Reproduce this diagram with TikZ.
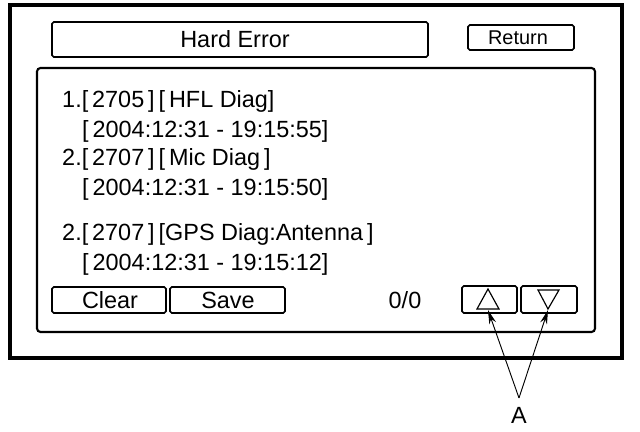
\documentclass[tikz,border=0pt]{standalone}
\usepackage{fontspec}
\setmainfont{Liberation Sans}
\usetikzlibrary{arrows.meta}
\begin{document}
\begin{tikzpicture}[x=0.03cm, y=-0.03cm,
    every node/.style={font=\fontsize{20}{24}\selectfont, inner sep=0pt},
    box/.style={draw, rounded corners=1.5pt, line width=1.3pt},
    entry/.style={anchor=base west}]
    \useasboundingbox (0, 0) rectangle (640, 432);
    % screen frame and panel
    \draw[line width=2.6pt] (10, 5) rectangle (622, 358);
    \draw[line width=1.8pt, rounded corners=3pt] (37, 68) rectangle (595, 332);
    % header
    \draw[box] (52, 22) rectangle (428, 57);
    \node (title) at (235, 39.5) {Hard Error};
    \draw[box] (468, 25) rectangle (574, 50);
    \node[font=\fontsize{17}{20}\selectfont] (return) at (518, 37.5) {Return};
    % error list
    \node[entry] (err1) at (62, 108) {1.[\,2705\,]\,[\,HFL Diag]};
    \node[entry] (time1) at (82, 138) {[\,2004:12:31 - 19:15:55]};
    \node[entry] (err2) at (62, 166) {2.[\,2707\,]\,[\,Mic Diag\,]};
    \node[entry] (time2) at (82, 196) {[\,2004:12:31 - 19:15:50]};
    \node[entry] (err3) at (62, 241) {2.[\,2707\,]\,[GPS Diag:Antenna\,]};
    \node[entry] (time3) at (82, 271) {[\,2004:12:31 - 19:15:12]};
    % buttons
    \draw[box] (52, 287) rectangle (166, 313);
    \node (clear) at (110, 300) {Clear};
    \draw[box] (170, 287) rectangle (285, 313);
    \node (save) at (228, 300) {Save};
    \node (count) at (405, 300) {0/0};
    \draw[box] (462, 286) rectangle (517, 313);
    \draw[box] (521, 286) rectangle (577, 313);
    \draw[line width=1pt] (488, 289) -- (499, 309) -- (477, 309) -- cycle;
    \draw[line width=1pt] (538, 290) -- (559, 290) -- (548, 309) -- cycle;
    \coordinate (up) at (488, 310);
    \coordinate (down) at (548, 310);
    % callout
    \node (A) at (519, 415) {A};
    \coordinate (apex) at (519, 398);
    \draw[line width=0.8pt, -{Stealth[length=12pt, width=6pt]}] (apex) -- (up);
    \draw[line width=0.8pt, -{Stealth[length=12pt, width=6pt]}] (apex) -- (down);
\end{tikzpicture}
\end{document}
